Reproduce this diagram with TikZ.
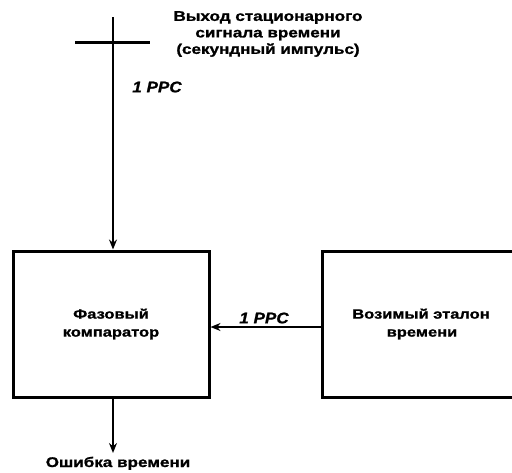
\documentclass[tikz,border=0pt]{standalone}
\usepackage{fontspec}
\setmainfont{Liberation Sans}
\newfontfamily\diagfont[FakeStretch=1.22,FakeBold=1.2]{Liberation Sans Bold}
\newfontfamily\diagitfont[FakeStretch=1.1,FakeBold=1.0]{Liberation Sans Bold Italic}
\usetikzlibrary{arrows.meta}
\begin{document}
\begin{tikzpicture}[x=1pt,y=-1pt,
  line/.style={line width=3pt},
  arr/.style={line width=2.8pt,-{Stealth[length=10pt,width=8pt]}},
  blockbox/.style={draw,line width=3pt,minimum width=196pt,minimum height=146pt,inner sep=0pt,align=center,font=\diagfont\fontsize{13.5}{18}\selectfont},
  txt/.style={align=center,inner sep=0pt,font=\diagfont\fontsize{14}{16.5}\selectfont},
  lbl/.style={inner sep=0pt,font=\diagitfont\fontsize{15.5}{17}\selectfont}]
\useasboundingbox (0,0) rectangle (512,472);
\clip (0,0) rectangle (512,472);
\node[blockbox] (comp) at (111,324) {Фазовый\\компаратор};
\node[blockbox, minimum width=200pt] (std) at (422,324) {\hspace*{-2pt}Возимый эталон\\времени};
\coordinate (src) at (113,17);
\coordinate (barl) at (75,42);
\coordinate (barr) at (150,42);
\coordinate (out) at (113,453);
\draw[line] (barl) -- (barr);
\draw[arr] (src) -- (src |- comp.north);
\draw[arr] (std.west |- 0,327) -- (comp.east |- 0,327);
\draw[arr] (113,0 |- comp.south) -- (out);
\node[txt] (srclabel) at (268,34) {Выход стационарного\\сигнала времени\\(секундный импульс)};
\node[lbl] (ppc1) at (157,87) {1 PPC};
\node[lbl] (ppc2) at (264,318) {1 PPC};
\node[txt, anchor=base] (err) at (118,467) {Ошибка времени};
\end{tikzpicture}
\end{document}
